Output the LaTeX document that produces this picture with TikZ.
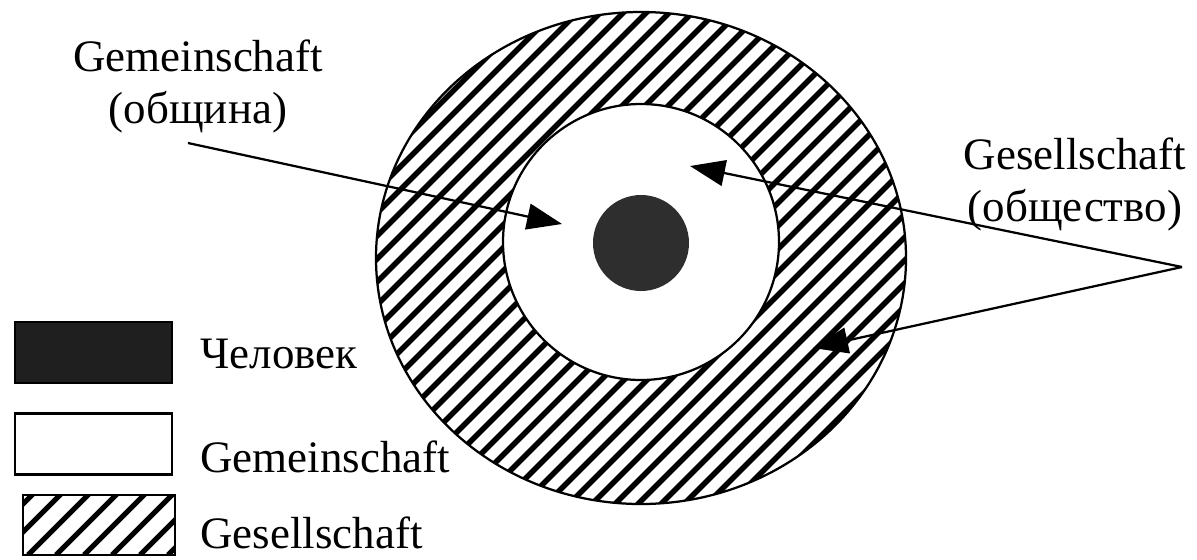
\documentclass[tikz,border=0pt]{standalone}
\usepackage{fontspec}
\setmainfont{Liberation Serif}
\usetikzlibrary{arrows.meta,calc}

\begin{document}
\begin{tikzpicture}[
	x=0.02cm, y=-0.02cm,
	lbl/.style={font=\fontsize{25.6}{29.6}\selectfont, inner sep=0pt, align=center},
	legtext/.style={font=\fontsize{25.6}{29.6}\selectfont, inner sep=0pt, anchor=base west},
	legbox/.style={rectangle, draw=black, line width=0.045cm, minimum width=3.14cm, minimum height=1.22cm},
	hatch/.style={line width=0.11cm},
	pointer/.style={line width=0.045cm, -{Triangle[length=0.7cm, width=0.52cm]}}
	]
	\useasboundingbox (0,0) rectangle (1197,559);

	% rings
	\begin{scope}
		\clip (641,258) ellipse [x radius=265, y radius=246];
		\foreach \x in {-160,-137,...,930}
			\draw[hatch] (\x,520) -- ++(560,-560);
	\end{scope}
	\draw[line width=0.045cm] (641,258) ellipse [x radius=265, y radius=246];
	\draw[line width=0.045cm, fill=white] (641,242) circle [radius=138];
	\fill[black!82] (641,243) circle [radius=48];

	% labels
	\node[lbl] (gem) at (198,86) {Gemeinschaft\\(община)};
	\node[lbl] (ges) at (1075,184) {Gesellschaft\\(общество)};

	\coordinate (a1) at (188,143);
	\coordinate (apex) at (1182,267);
	\coordinate (t1) at (562,224);
	\coordinate (t2) at (690,166);
	\coordinate (t3) at (813,348);
	\draw[pointer] (a1) -- (t1);
	\draw[pointer] (apex) -- (t2);
	\draw[pointer] (apex) -- (t3);

	% legend
	\node[legbox, fill=black!88] (lm) at (93.5,352.5) {};
	\node[legbox, fill=white] (lc) at (93.5,444) {};
	\node[legbox, minimum width=3.04cm, minimum height=1.2cm,
		path picture={
			\foreach \i in {-3,...,6}
				\draw[line width=0.1cm] ($(path picture bounding box.south west)+(\i*28+5,0)$) -- ++(70,-70);
		}] (ls) at (99,525) {};
	\node[legtext] (lmt) at (200,368) {Человек};
	\node[legtext] (lct) at (200,472) {Gemeinschaft};
	\node[legtext] (lst) at (200,548) {Gesellschaft};
\end{tikzpicture}
\end{document}
